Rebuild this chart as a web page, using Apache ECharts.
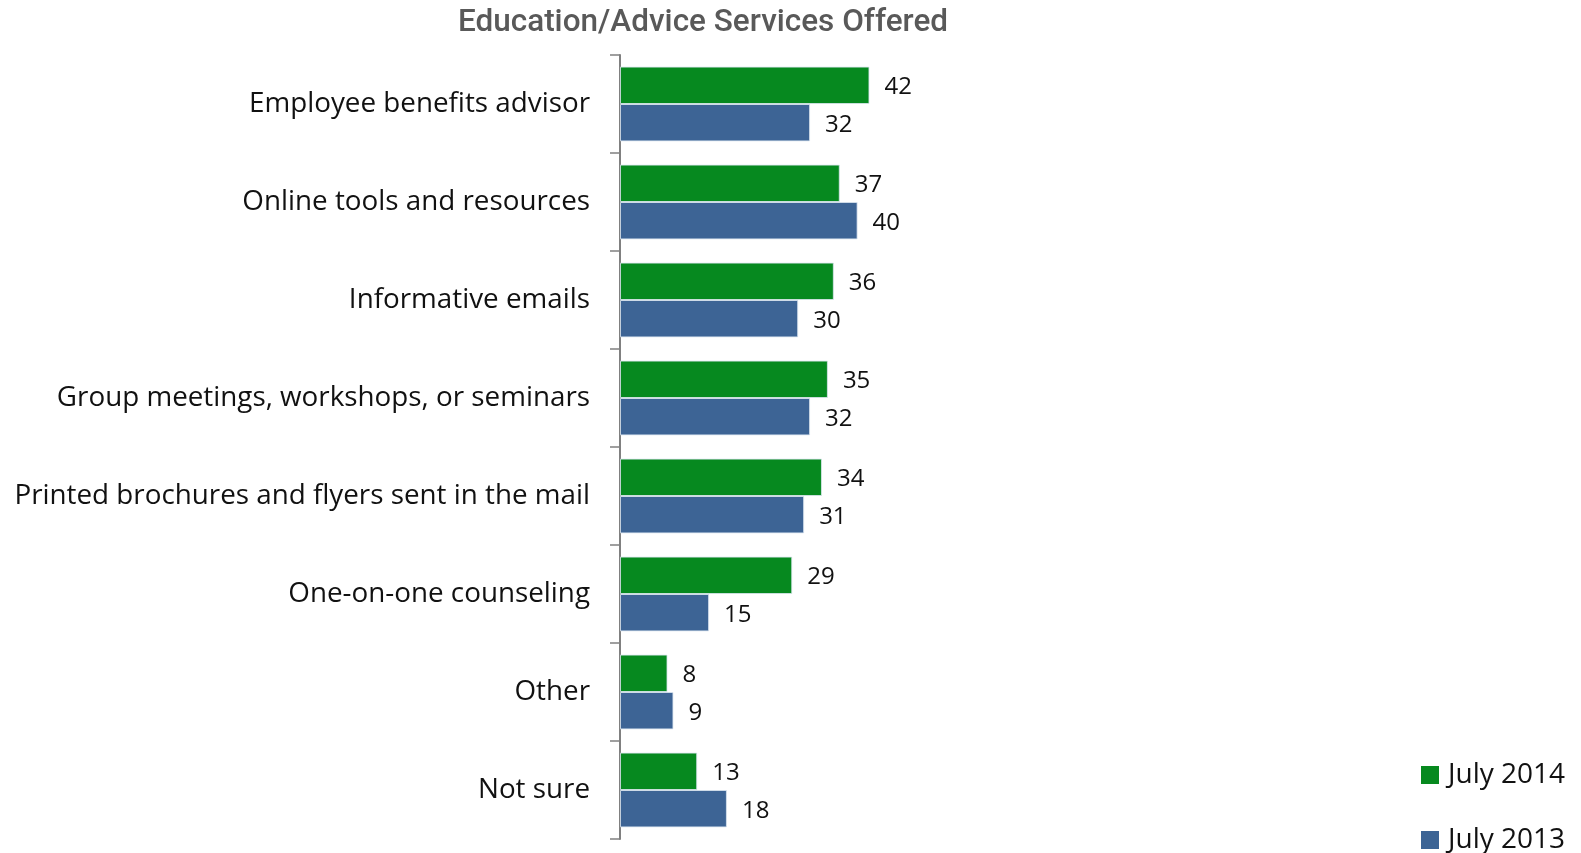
<!DOCTYPE html>
<html>
<head>
<meta charset="utf-8">
<script src="https://cdn.jsdelivr.net/npm/echarts@6/dist/echarts.min.js"></script>
<style>
  html, body { margin: 0; padding: 0; background: #ffffff; }
  #chart { width: 1581px; height: 853px; }
</style>
</head>
<body>
<div id="chart"></div>
<script>
// Education / advice services offered, percent of respondents
const categories = [
  'Employee benefits advisor',
  'Online tools and resources',
  'Informative emails',
  'Group meetings, workshops, or seminars',
  'Printed brochures and flyers sent in the mail',
  'One-on-one counseling',
  'Other',
  'Not sure'
];
const july2014 = [42, 37, 36, 35, 34, 29, 8, 13];
const july2013 = [32, 40, 30, 32, 31, 15, 9, 18];
const seriesNames = ['July 2014', 'July 2013'];

const GREEN = '#06891f';
const BLUE = '#3d6495';
const FONT = '"Open Sans", "Noto Sans", sans-serif';

const chart = echarts.init(document.getElementById('chart'));

const labelStyle = {
  show: true,
  position: 'right',
  distance: 15,
  offset: [0, 2],
  color: '#111111',
  fontFamily: FONT,
  fontSize: 24
};

// one legend block per series, stacked in the bottom-right corner
function legendBlock(name, top) {
  return {
    orient: 'vertical',
    left: 1416,
    top: top,
    itemWidth: 18,
    itemHeight: 18,
    itemGap: 10,
    icon: 'rect',
    data: [name],
    itemStyle: { borderWidth: 0 },
    textStyle: {
      fontFamily: FONT,
      fontSize: 28,
      color: '#111111',
      padding: [0, 0, 0, 4]
    }
  };
}

chart.setOption({
  animation: false,
  title: {
    text: 'Education/Advice Services Offered',
    left: 698,
    textAlign: 'center',
    top: 2,
    textStyle: {
      fontFamily: 'Roboto, "Liberation Sans Narrow", sans-serif',
      fontWeight: 500,
      fontSize: 31.5,
      color: '#595959'
    }
  },
  legend: [
    legendBlock(seriesNames[0], 756),
    legendBlock(seriesNames[1], 821)
  ],
  grid: {
    left: 620,
    top: 55,
    width: 297,
    height: 784,
    containLabel: false
  },
  xAxis: {
    type: 'value',
    min: 0,
    max: 50,
    show: false,
    splitLine: { show: false }
  },
  yAxis: {
    type: 'category',
    inverse: true,
    data: categories,
    axisLine: { show: true, lineStyle: { color: '#808080', width: 2 } },
    axisTick: { show: true, length: 10, lineStyle: { color: '#808080', width: 1.5 } },
    axisLabel: {
      margin: 30,
      color: '#111111',
      fontFamily: FONT,
      fontSize: 27.8,
      padding: [7, 0, 0, 0]
    }
  },
  series: [
    {
      name: seriesNames[0],
      type: 'bar',
      data: july2014,
      barGap: '0%',
      barCategoryGap: '23.7%',
      itemStyle: { color: GREEN, borderColor: 'rgba(220,230,240,0.8)', borderWidth: 1 },
      label: labelStyle
    },
    {
      name: seriesNames[1],
      type: 'bar',
      data: july2013,
      barGap: '0%',
      barCategoryGap: '23.7%',
      itemStyle: { color: BLUE, borderColor: 'rgba(220,230,240,0.8)', borderWidth: 1 },
      label: labelStyle
    }
  ]
});
</script>
</body>
</html>
